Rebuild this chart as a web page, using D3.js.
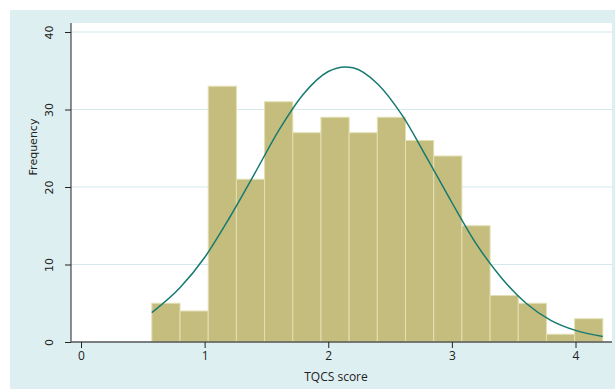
<!DOCTYPE html>
<html>
<head>
<meta charset="utf-8">
<script src="https://cdn.jsdelivr.net/npm/d3@7"></script>
<style>
body { margin: 0; background: #fff; }
</style>
</head>
<body>
<div id="chart"></div>
<script>
// histogram bins (TQCS score) and counts
const binStart = 0.573;
const binWidth = 0.228;
const counts = [5, 4, 33, 21, 31, 27, 29, 27, 29, 26, 24, 15, 6, 5, 1, 3];
// normal density overlay
const curveX = [0.573, 0.8, 1.0, 1.2, 1.4, 1.6, 1.8, 2.0, 2.136, 2.2, 2.4, 2.6, 2.8, 3.0, 3.2, 3.4, 3.6, 3.8, 4.0, 4.221];
const curveY = [3.8, 7.0, 10.9, 16.0, 21.6, 27.3, 32.0, 34.9, 35.5, 35.4, 33.3, 29.2, 23.7, 18.0, 12.6, 8.3, 5.0, 2.8, 1.5, 0.7];
const xTicks = [0, 1, 2, 3, 4];
const yTicks = [0, 10, 20, 30, 40];

const W = 615, H = 389;
const plot = {left: 71, right: 612, top: 23, bottom: 342};

const svg = d3.select("#chart").append("svg")
	.attr("width", W)
	.attr("height", H);

// outer graph region
svg.append("rect").attr("x", 10).attr("y", 10).attr("width", W - 10).attr("height", H - 10).attr("fill", "#deeff1");
svg.append("rect").attr("x", plot.left).attr("y", plot.top)
	.attr("width", plot.right - plot.left).attr("height", plot.bottom - plot.top).attr("fill", "#fff");

var x = d3.scaleLinear().domain([0, 4]).range([81, 575.5]);
var y = d3.scaleLinear().domain([0, 40]).range([plot.bottom, 32]);

// grid lines
svg.append("g").selectAll("line").data(yTicks.filter(d => d > 0)).enter().append("line")
	.attr("x1", plot.left).attr("x2", plot.right)
	.attr("y1", d => y(d)).attr("y2", d => y(d))
	.attr("stroke", "#d5e9ed").attr("stroke-width", 1);

// bars
const bins = counts.map((c, i) => ({x0: binStart + i * binWidth, x1: binStart + (i + 1) * binWidth, n: c}));
svg.append("g").selectAll("rect").data(bins).enter().append("rect")
	.attr("x", d => x(d.x0))
	.attr("width", d => x(d.x1) - x(d.x0))
	.attr("y", d => y(d.n))
	.attr("height", d => y(0) - y(d.n))
	.attr("fill", "#c5bd7d")
	.attr("stroke", "#e3dfb3")
	.attr("stroke-width", 1);

// normal curve
const pts = curveX.map((v, i) => [v, curveY[i]]);
svg.append("path").datum(pts)
	.attr("d", d3.line().x(d => x(d[0])).y(d => y(d[1])).curve(d3.curveMonotoneX))
	.attr("fill", "none")
	.attr("stroke", "#177a70")
	.attr("stroke-width", 1.5);

// y axis
var yAxis = svg.append("g")
	.attr("transform", `translate(${plot.left},0)`)
	.call(d3.axisLeft(y).tickValues(yTicks).tickSize(6).tickSizeOuter(0).tickFormat(d3.format("d")));
yAxis.select(".domain").attr("d", `M0,${plot.top}V${plot.bottom}`).attr("stroke", "#222");
yAxis.selectAll(".tick line").attr("stroke", "#222");
yAxis.selectAll(".tick text")
	.attr("transform", "rotate(-90)")
	.attr("x", 0).attr("y", -18).attr("dy", 0)
	.attr("text-anchor", "middle")
	.attr("font-family", "DejaVu Sans, Verdana, sans-serif")
	.attr("font-size", 11).attr("fill", "#222");

// x axis
var xAxis = svg.append("g")
	.attr("transform", `translate(0,${plot.bottom})`)
	.call(d3.axisBottom(x).tickValues(xTicks).tickSize(6).tickSizeOuter(0).tickFormat(d3.format("d")));
xAxis.select(".domain").attr("d", `M${plot.left},0H${plot.right}`).attr("stroke", "#555").attr("stroke-width", 1.5);
xAxis.selectAll(".tick line").attr("stroke", "#222");
xAxis.selectAll(".tick text")
	.attr("y", 9)
	.attr("font-family", "Open Sans, sans-serif")
	.attr("font-size", 12).attr("fill", "#222");

// axis titles
svg.append("text")
	.attr("x", 336).attr("y", 381)
	.attr("text-anchor", "middle")
	.attr("font-family", "Open Sans, sans-serif")
	.attr("font-size", 12).attr("fill", "#222")
	.text("TQCS score");
svg.append("text")
	.attr("transform", "translate(37,147) rotate(-90)")
	.attr("text-anchor", "middle")
	.attr("font-family", "DejaVu Sans, Verdana, sans-serif")
	.attr("font-size", 11).attr("fill", "#222")
	.text("Frequency");
</script>
</body>
</html>
